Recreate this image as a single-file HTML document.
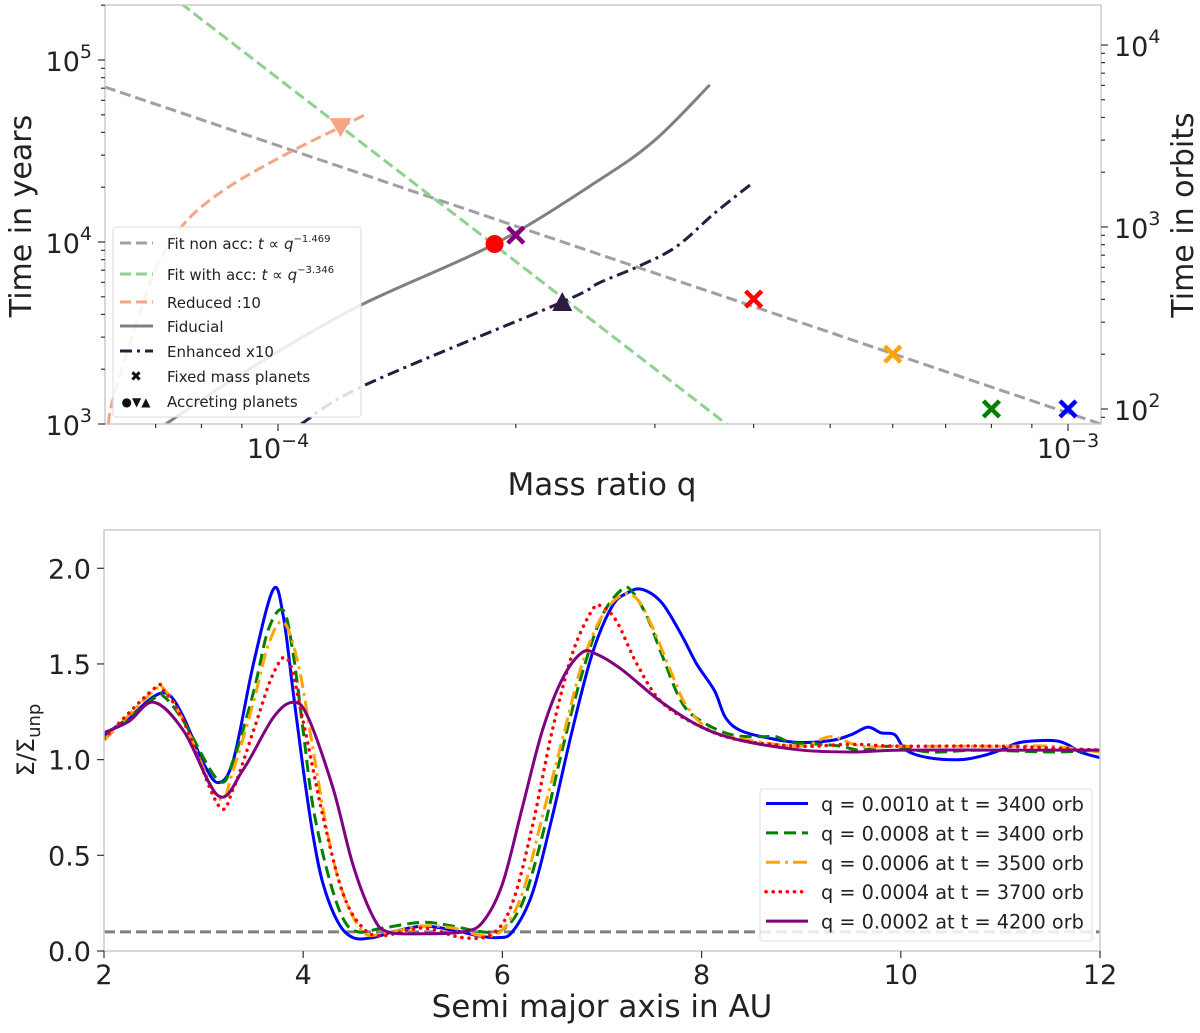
<!DOCTYPE html>
<html><head><meta charset="utf-8"><style>
html,body{margin:0;padding:0;background:#fff;}
svg{display:block;font-family:"DejaVu Sans","Liberation Sans",sans-serif;}
</style></head><body>
<svg id="fig" width="1200" height="1033" viewBox="0 0 1200 1033" xmlns="http://www.w3.org/2000/svg"></svg>
<script>
// ---------- TOP PANEL DATA ----------
const fitNonAccExp = -1.469;
const fitNonAccRef = [1e-3, 1150];
const fitAccExp = -3.346;
const fitAccRef = [1.88e-4, 9600];
const fiducialQ = [7.21e-5, 9.16e-5, 1.26e-4, 1.88e-4, 2.55e-4, 3.0e-4, 3.52e-4];
const fiducialT = [1000, 1980, 4400, 9750, 21900, 36300, 73000];
const enhancedQ = [1.07e-4, 1.29e-4, 2.29e-4, 2.55e-4, 2.85e-4, 3.19e-4, 3.57e-4, 3.96e-4];
const enhancedT = [1000, 1640, 4680, 5960, 7300, 9400, 14400, 20600];
const reducedQ = [6.1e-5, 6.18e-5, 6.64e-5, 7.04e-5, 7.64e-5, 8.65e-5, 1.03e-4, 1.2e-4, 1.30e-4];
const reducedT = [1000, 1360, 3730, 7480, 12900, 20000, 30800, 42800, 51000];
const fixedQ = [2e-4, 4e-4, 6e-4, 8e-4, 1e-3];
const fixedT = [10900, 4860, 2420, 1210, 1210];
const fixedColors = ['#800080', '#ff0000', '#ffa500', '#008000', '#0000ff'];
const accQ = [1.88e-4, 1.2e-4, 2.29e-4];
const accT = [9750, 42800, 4680];
const orbitPeriod = 12.09;
const topXTickExp = [-4, -3];
const topYTickExp = [3, 4, 5];
const topY2TickExp = [2, 3, 4];

// ---------- BOTTOM PANEL DATA ----------
const blueX = [2.0,2.25,2.5,2.65,2.8,3.0,3.15,3.3,3.5,3.7,3.8,3.9,4.0,4.1,4.2,4.35,4.5,4.7,4.9,5.2,5.5,5.75,5.95,6.1,6.3,6.5,6.7,6.9,7.1,7.25,7.4,7.6,7.8,7.95,8.13,8.24,8.4,8.7,8.97,9.3,9.5,9.67,9.8,9.94,10.05,10.28,10.6,10.82,11.0,11.2,11.52,11.67,11.8,12.0];
const blueY = [1.13,1.22,1.33,1.34,1.22,0.98,0.88,1.0,1.5,1.89,1.75,1.35,0.95,0.6,0.35,0.15,0.07,0.07,0.1,0.13,0.11,0.08,0.07,0.1,0.3,0.7,1.15,1.55,1.8,1.87,1.89,1.82,1.65,1.5,1.36,1.22,1.15,1.11,1.09,1.1,1.13,1.17,1.14,1.13,1.05,1.01,1.0,1.02,1.05,1.09,1.1,1.08,1.04,1.01];
const greenX = [2.0,2.5,2.6,2.8,3.15,3.3,3.5,3.65,3.8,3.9,4.0,4.1,4.25,4.4,4.55,4.8,5.2,5.5,5.8,6.0,6.2,6.4,6.6,6.8,7.0,7.2,7.3,7.45,7.6,7.8,8.0,8.3,8.6,8.75,8.9,9.2,9.4,9.6,9.9,10.3,10.8,11.5,12.0];
const greenY = [1.11,1.32,1.33,1.2,0.89,1.0,1.35,1.68,1.78,1.55,1.15,0.75,0.4,0.17,0.1,0.12,0.15,0.13,0.1,0.11,0.25,0.6,1.05,1.45,1.75,1.89,1.88,1.75,1.55,1.3,1.2,1.13,1.12,1.12,1.09,1.08,1.07,1.05,1.07,1.04,1.05,1.04,1.05];
const orangeX = [2.0,2.5,2.6,2.8,3.15,3.3,3.5,3.65,3.8,3.95,4.1,4.25,4.4,4.6,4.8,5.2,5.5,5.8,6.0,6.2,6.4,6.6,6.8,7.0,7.2,7.35,7.5,7.7,7.85,8.1,8.5,9.0,9.3,9.6,10.0,11.0,11.5,12.0];
const orangeY = [1.1,1.36,1.37,1.2,0.8,0.95,1.3,1.6,1.72,1.5,1.05,0.6,0.3,0.1,0.09,0.13,0.12,0.08,0.11,0.3,0.7,1.1,1.5,1.75,1.86,1.84,1.7,1.45,1.28,1.15,1.1,1.07,1.12,1.07,1.07,1.07,1.07,1.04];
const redX = [2.0,2.5,2.6,2.8,3.15,3.3,3.5,3.7,3.85,4.0,4.2,4.4,4.6,4.8,5.2,5.6,5.9,6.1,6.3,6.5,6.7,6.9,7.0,7.15,7.35,7.6,8.0,8.4,9.0,9.5,10.0,11.0,12.0];
const redY = [1.11,1.37,1.36,1.2,0.76,0.85,1.15,1.45,1.52,1.2,0.7,0.3,0.12,0.08,0.12,0.07,0.09,0.25,0.65,1.15,1.55,1.78,1.8,1.72,1.5,1.3,1.17,1.1,1.07,1.08,1.07,1.07,1.05];
const purpleX = [2.0,2.25,2.5,2.8,3.15,3.4,3.7,3.9,4.05,4.3,4.5,4.7,4.85,5.2,5.6,5.8,6.0,6.2,6.4,6.6,6.8,6.95,7.2,7.6,8.0,8.4,9.0,9.5,10.0,11.0,12.0];
const purpleY = [1.14,1.2,1.3,1.15,0.81,0.95,1.22,1.3,1.22,0.85,0.45,0.18,0.1,0.09,0.1,0.15,0.35,0.75,1.15,1.42,1.56,1.55,1.47,1.3,1.17,1.1,1.05,1.04,1.05,1.05,1.05];
const threshold = 0.1;
const botXTicks = [2, 4, 6, 8, 10, 12];
const botYTicks = [0.0, 0.5, 1.0, 1.5, 2.0];
const legendLabels = ['q = 0.0010 at t = 3400 orb','q = 0.0008 at t = 3400 orb','q = 0.0006 at t = 3500 orb','q = 0.0004 at t = 3700 orb','q = 0.0002 at t = 4200 orb'];

// ---------- helpers ----------
const NS = 'http://www.w3.org/2000/svg';
const svgRoot = document.getElementById('fig');
function mk(tag, attrs, parent) {
  const e = document.createElementNS(NS, tag);
  for (const k in attrs) e.setAttribute(k, attrs[k]);
  (parent || svgRoot).appendChild(e);
  return e;
}
function tspan(parent, txt, attrs) {
  const s = mk('tspan', attrs || {}, parent);
  s.textContent = txt;
  return s;
}
function smoothPath(pts) {
  if (pts.length < 2) return '';
  let d = 'M' + pts[0][0].toFixed(2) + ',' + pts[0][1].toFixed(2);
  for (let i = 0; i < pts.length - 1; i++) {
    const p0 = pts[i - 1] || pts[i], p1 = pts[i], p2 = pts[i + 1], p3 = pts[i + 2] || p2;
    const c1 = [p1[0] + (p2[0] - p0[0]) / 6, p1[1] + (p2[1] - p0[1]) / 6];
    const c2 = [p2[0] - (p3[0] - p1[0]) / 6, p2[1] - (p3[1] - p1[1]) / 6];
    d += 'C' + c1[0].toFixed(2) + ',' + c1[1].toFixed(2) + ' ' + c2[0].toFixed(2) + ',' + c2[1].toFixed(2) + ' ' + p2[0].toFixed(2) + ',' + p2[1].toFixed(2);
  }
  return d;
}

const defs = mk('defs', {});
const cp1 = mk('clipPath', {id: 'clipTop'}, defs);
mk('rect', {x: 105, y: 5, width: 996, height: 419}, cp1);
const cp2 = mk('clipPath', {id: 'clipBot'}, defs);
mk('rect', {x: 104, y: 530, width: 996, height: 421}, cp2);

// ---------- TOP PANEL ----------
const T = {l: 105, r: 1101, t: 5, b: 424};
const qLogMin = -4 - (278 - 105) / 790, qLogMax = -3 + (1101 - 1068) / 790;
const tLogMin = 3, tLogMax = 3 + (424 - 5) / 182;
function xq(q) { return T.l + (Math.log10(q) - qLogMin) / (qLogMax - qLogMin) * (T.r - T.l); }
function yt(t) { return T.b - (Math.log10(t) - tLogMin) / (tLogMax - tLogMin) * (T.b - T.t); }

const topG = mk('g', { });
const topPlot = mk('g', {'clip-path': 'url(#clipTop)',  }, topG);

function fitLine(ref, exp, name, color) {
  const pts = [];
  for (let i = 0; i <= 40; i++) {
    const lq = qLogMin + (qLogMax - qLogMin) * i / 40;
    const q = Math.pow(10, lq);
    const t = ref[1] * Math.pow(q / ref[0], exp);
    pts.push([xq(q), yt(t)]);
  }
  const p = mk('path', {d: 'M' + pts.map(p => p[0].toFixed(1) + ',' + p[1].toFixed(1)).join('L'), fill: 'none', stroke: color, 'stroke-width': 3, 'stroke-dasharray': '11,5'}, topPlot);
  
  
}
fitLine(fitNonAccRef, fitNonAccExp, 'fit-non-acc-line', '#a0a0a0');
fitLine(fitAccRef, fitAccExp, 'fit-with-acc-line', '#8fd18f');

function curve(qs, ts, name, color, dash) {
  const pts = qs.map((q, i) => [xq(q), yt(ts[i])]);
  const p = mk('path', {d: smoothPath(pts), fill: 'none', stroke: color, 'stroke-width': 3}, topPlot);
  if (dash) p.setAttribute('stroke-dasharray', dash);
  
  
}
curve(reducedQ, reducedT, 'reduced-line', '#f4a582', '11,5');
curve(fiducialQ, fiducialT, 'fiducial-line', '#808080', null);
curve(enhancedQ, enhancedT, 'enhanced-line', '#2d1a40', '12,5,3,5');

fixedQ.forEach((q, i) => {
  const x = xq(q), y = yt(fixedT[i]), s = 8;
  const g = mk('path', {d: `M${x-s},${y-s}L${x+s},${y+s}M${x-s},${y+s}L${x+s},${y-s}`, stroke: fixedColors[i], 'stroke-width': 4.5, fill: 'none'}, topPlot);
  
  
});
{
  const c = mk('circle', {cx: xq(accQ[0]), cy: yt(accT[0]), r: 9, fill: '#ff0000'}, topPlot);
  
  
  const x1 = xq(accQ[1]), y1 = yt(accT[1]);
  const tr = mk('path', {d: `M${x1-11},${y1-9}L${x1+11},${y1-9}L${x1},${y1+10}Z`, fill: '#f4a582'}, topPlot);
  
  
  const x2 = xq(accQ[2]), y2 = yt(accT[2]);
  const tu = mk('path', {d: `M${x2-10},${y2+9}L${x2+10},${y2+9}L${x2},${y2-10}Z`, fill: '#2d1a40'}, topPlot);
  
  
}

mk('rect', {x: T.l, y: T.t, width: T.r - T.l, height: T.b - T.t, fill: 'none', stroke: '#cccccc', 'stroke-width': 1.5,  }, topG);

const topXAxis = mk('g', { }, topG);
for (let e = -5; e <= -3; e++) {
  for (let m = 1; m <= 9; m++) {
    const x = xq(m * Math.pow(10, e));
    if (x < T.l - 0.5 || x > T.r + 0.5) continue;
    mk('line', {x1: x, x2: x, y1: T.b, y2: T.b + (m === 1 ? 7 : 4), stroke: '#333', 'stroke-width': 1.2}, topXAxis);
  }
}
topXTickExp.forEach(e => {
  const t = mk('text', {x: xq(Math.pow(10, e)), y: 458, 'font-size': 27, 'text-anchor': 'middle', fill: '#222'}, topXAxis);
  tspan(t, '10');
  tspan(t, '\u2212' + (-e), {dy: -11, 'font-size': 19});
  
  
});
mk('text', {x: 602, y: 495, 'font-size': 31, 'text-anchor': 'middle', fill: '#222',  }, topG).textContent = 'Mass ratio q';

const topYAxis = mk('g', { }, topG);
for (let e = 3; e <= 5; e++) {
  for (let m = 1; m <= 9; m++) {
    const y = yt(m * Math.pow(10, e));
    if (y < T.t - 0.5 || y > T.b + 0.5) continue;
    mk('line', {x1: T.l, x2: T.l - (m === 1 ? 7 : 4), y1: y, y2: y, stroke: '#333', 'stroke-width': 1.2}, topYAxis);
  }
}
topYTickExp.forEach(e => {
  const t = mk('text', {x: 92, y: yt(Math.pow(10, e)) + 11, 'font-size': 27, 'text-anchor': 'end', fill: '#222'}, topYAxis);
  tspan(t, '10');
  tspan(t, String(e), {dy: -13, 'font-size': 19});
  
  
});
mk('text', {x: 0, y: 0, 'font-size': 30, 'text-anchor': 'middle', fill: '#222', transform: 'translate(31,216) rotate(-90)',  }, topG).textContent = 'Time in years';

const topY2Axis = mk('g', { }, topG);
for (let e = 1; e <= 4; e++) {
  for (let m = 1; m <= 9; m++) {
    const y = yt(m * Math.pow(10, e) * orbitPeriod);
    if (y < T.t - 0.5 || y > T.b + 0.5) continue;
    mk('line', {x1: T.r, x2: T.r + (m === 1 ? 7 : 4), y1: y, y2: y, stroke: '#333', 'stroke-width': 1.2}, topY2Axis);
  }
}
topY2TickExp.forEach(e => {
  const t = mk('text', {x: 1114, y: yt(Math.pow(10, e) * orbitPeriod) + 11, 'font-size': 27, fill: '#222'}, topY2Axis);
  tspan(t, '10');
  tspan(t, String(e), {dy: -13, 'font-size': 19});
  
  
});
mk('text', {x: 0, y: 0, 'font-size': 30, 'text-anchor': 'middle', fill: '#222', transform: 'translate(1193,215) rotate(-90)',  }, topG).textContent = 'Time in orbits';

const tl = mk('g', { }, topG);
mk('rect', {x: 113, y: 227, width: 248, height: 190, rx: 3, fill: 'rgba(255,255,255,0.85)', stroke: '#dddddd', 'stroke-width': 1}, tl);
const tlEntries = [
  {y: 243, kind: 'line', color: '#a0a0a0', dash: '11,5', label: 'Fit non acc: ', exp: '\u22121.469', name: 'legend-fit-non-acc'},
  {y: 274, kind: 'line', color: '#8fd18f', dash: '11,5', label: 'Fit with acc: ', exp: '\u22123.346', name: 'legend-fit-with-acc'},
  {y: 302, kind: 'line', color: '#f4a582', dash: '11,5', label: 'Reduced :10', name: 'legend-reduced'},
  {y: 326, kind: 'line', color: '#808080', dash: null, label: 'Fiducial', name: 'legend-fiducial'},
  {y: 351, kind: 'line', color: '#2d1a40', dash: '12,5,3,5', label: 'Enhanced x10', name: 'legend-enhanced'},
  {y: 376, kind: 'sym', sym: '\u2716', label: 'Fixed mass planets', name: 'legend-fixed-mass'},
  {y: 401, kind: 'sym', sym: '\u25cf\u25bc\u25b2', label: 'Accreting planets', name: 'legend-accreting'}
];
tlEntries.forEach(en => {
  const g = mk('g', {}, tl);
  
  
  if (en.kind === 'line') {
    const l = mk('line', {x1: 120, x2: 153, y1: en.y, y2: en.y, stroke: en.color, 'stroke-width': 3}, g);
    if (en.dash) l.setAttribute('stroke-dasharray', en.dash);
  } else {
    mk('text', {x: 136, y: en.y + 5, 'font-size': en.sym.length > 1 ? 12 : 14, 'text-anchor': 'middle', fill: '#111'}, g).textContent = en.sym;
  }
  const t = mk('text', {x: 167, y: en.y + 6, 'font-size': 15, fill: '#222'}, g);
  tspan(t, en.label);
  if (en.exp) {
    tspan(t, 't', {'font-style': 'italic'});
    tspan(t, ' \u221d ');
    tspan(t, 'q', {'font-style': 'italic'});
    tspan(t, en.exp, {dy: -7, 'font-size': 10});
  }
});

// ---------- BOTTOM PANEL ----------
const B = {l: 104, r: 1100, t: 530, b: 951};
const bxMin = 2, bxMax = 12, byMin = 0, byMax = 2.2;
function bx(v) { return B.l + (v - bxMin) / (bxMax - bxMin) * (B.r - B.l); }
function by(v) { return B.b - (v - byMin) / (byMax - byMin) * (B.b - B.t); }
const bot = mk('g', { });
const botPlot = mk('g', {'clip-path': 'url(#clipBot)',  }, bot);
{
  const th = mk('line', {x1: B.l, x2: B.r, y1: by(threshold), y2: by(threshold), stroke: '#808080', 'stroke-width': 3, 'stroke-dasharray': '11,5'}, botPlot);
  
  
}
const series = [
  {x: blueX, y: blueY, color: '#0000ff', dash: null, cap: 'butt', name: 'series-q0010'},
  {x: greenX, y: greenY, color: '#008000', dash: '12,6', cap: 'butt', name: 'series-q0008'},
  {x: orangeX, y: orangeY, color: '#ffa500', dash: '14,5,3,5', cap: 'butt', name: 'series-q0006'},
  {x: redX, y: redY, color: '#ff0000', dash: '0.1,7', cap: 'round', name: 'series-q0004'},
  {x: purpleX, y: purpleY, color: '#800080', dash: null, cap: 'butt', name: 'series-q0002'}
];
series.forEach(s => {
  const pts = s.x.map((v, i) => [bx(v), by(s.y[i])]);
  const p = mk('path', {d: smoothPath(pts), fill: 'none', stroke: s.color, 'stroke-width': s.cap === 'round' ? 3.5 : 3, 'stroke-linecap': s.cap}, botPlot);
  if (s.dash) p.setAttribute('stroke-dasharray', s.dash);
  
  
});
mk('rect', {x: B.l, y: B.t, width: B.r - B.l, height: B.b - B.t, fill: 'none', stroke: '#cccccc', 'stroke-width': 1.5,  }, bot);

const botXAxis = mk('g', { }, bot);
botXTicks.forEach(v => {
  mk('line', {x1: bx(v), x2: bx(v), y1: B.b, y2: B.b + 7, stroke: '#333', 'stroke-width': 1.2}, botXAxis);
  const t = mk('text', {x: bx(v), y: 984, 'font-size': 27, 'text-anchor': 'middle', fill: '#222'}, botXAxis);
  t.textContent = String(v);
  
  
});
mk('text', {x: 602, y: 1017, 'font-size': 31, 'text-anchor': 'middle', fill: '#222',  }, bot).textContent = 'Semi major axis in AU';

const botYAxis = mk('g', { }, bot);
botYTicks.forEach(v => {
  mk('line', {x1: B.l, x2: B.l - 7, y1: by(v), y2: by(v), stroke: '#333', 'stroke-width': 1.2}, botYAxis);
  const t = mk('text', {x: 91, y: by(v) + 10, 'font-size': 27, 'text-anchor': 'end', fill: '#222'}, botYAxis);
  t.textContent = v.toFixed(1);
  
  
});
{
  const t = mk('text', {x: 0, y: 0, 'font-size': 24, 'text-anchor': 'middle', fill: '#222', transform: 'translate(34,740) rotate(-90)',  }, bot);
  tspan(t, '\u03a3/\u03a3');
  tspan(t, 'unp', {dy: 6, 'font-size': 18});
}

const bl = mk('g', { }, bot);
mk('rect', {x: 760, y: 789, width: 332, height: 152, rx: 3, fill: 'rgba(255,255,255,0.85)', stroke: '#dddddd', 'stroke-width': 1}, bl);
series.forEach((s, i) => {
  const y = 803.5 + i * 29.4;
  const g = mk('g', {}, bl);
  
  
  const l = mk('line', {x1: 766, x2: 808, y1: y, y2: y, stroke: s.color, 'stroke-width': s.cap === 'round' ? 3.5 : 3, 'stroke-linecap': s.cap}, g);
  if (s.dash) l.setAttribute('stroke-dasharray', s.dash);
  mk('text', {x: 821, y: y + 7.5, 'font-size': 19.3, fill: '#222'}, g).textContent = legendLabels[i];
});
</script>
</body></html>
